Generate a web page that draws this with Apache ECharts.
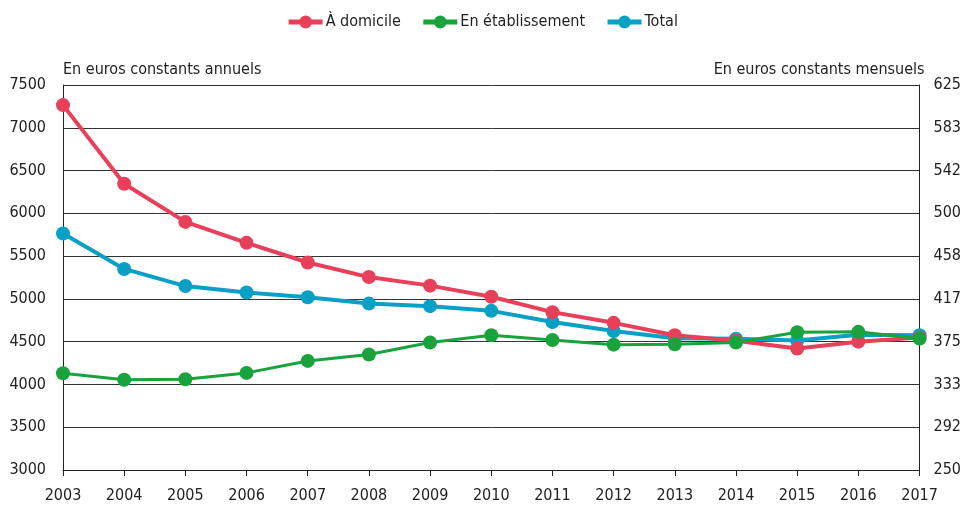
<!DOCTYPE html>
<html>
<head>
<meta charset="utf-8">
<script src="https://cdn.jsdelivr.net/npm/echarts@6/dist/echarts.min.js"></script>
<style>
  html, body { margin: 0; padding: 0; background: #fff; }
  #chart { width: 964px; height: 505px; }
</style>
</head>
<body>
<div id="chart"></div>
<script>
// Years on the horizontal axis
const years = ['2003','2004','2005','2006','2007','2008','2009','2010','2011','2012','2013','2014','2015','2016','2017'];

// Annual amounts in constant euros
const domicile = [7265, 6345, 5900, 5655, 5425, 5255, 5155, 5025, 4845, 4720, 4575, 4510, 4420, 4500, 4550];
const etablissement = [4130, 4055, 4060, 4135, 4275, 4350, 4490, 4575, 4520, 4465, 4470, 4490, 4610, 4615, 4535];
const total = [5765, 5350, 5150, 5075, 5020, 4945, 4915, 4860, 4730, 4625, 4540, 4535, 4515, 4580, 4575];

const seriesNames = ['À domicile', 'En établissement', 'Total'];
const colors = ['#e8405a', '#18a33c', '#0aa0c6'];

const FONT = '"Liberation Sans Narrow", "DejaVu Sans Condensed", "Roboto", sans-serif';

const chart = echarts.init(document.getElementById('chart'));

function lineSeries(name, data, color, width, z) {
  return {
    name: name,
    type: 'line',
    data: data,
    yAxisIndex: 0,
    symbol: 'circle',
    symbolSize: 14,
    z: z,
    itemStyle: { color: color },
    lineStyle: { color: color, width: width },
    emphasis: { disabled: true },
    animation: false
  };
}

chart.setOption({
  animation: false,
  color: colors,
  textStyle: { fontFamily: FONT },
  legend: {
    top: 9,
    left: 'center',
    itemWidth: 34,
    itemHeight: 16,
    itemGap: 20,
    lineStyle: { width: 5 },
    textStyle: { fontFamily: FONT, fontSize: 16, color: '#222', padding: [0, 0, 0, -2] },
    data: seriesNames
  },
  grid: { left: 63, right: 43, top: 85, bottom: 35, containLabel: false },
  xAxis: {
    type: 'category',
    data: years,
    boundaryGap: false,
    axisLine: { show: true, lineStyle: { color: '#222', width: 1 } },
    axisTick: { show: true, length: 6, lineStyle: { color: '#222' } },
    axisLabel: { color: '#222', fontSize: 16, margin: 18, fontFamily: FONT },
    splitLine: { show: false }
  },
  yAxis: [
    {
      type: 'value',
      min: 3000,
      max: 7500,
      interval: 500,
      name: 'En euros constants annuels',
      nameLocation: 'end',
      nameGap: 7,
      nameTextStyle: { align: 'left', color: '#222', fontSize: 16, fontFamily: FONT },
      axisLine: { show: true, lineStyle: { color: '#222', width: 1 } },
      axisTick: { show: false },
      axisLabel: {
        color: '#222', fontSize: 16, margin: 17, fontFamily: FONT,
        formatter: v => String(v)
      },
      splitLine: { show: true, lineStyle: { color: '#333', width: 1 } }
    },
    {
      type: 'value',
      position: 'right',
      min: 250,
      max: 625,
      interval: 125 / 3,
      name: 'En euros constants mensuels',
      nameLocation: 'end',
      nameGap: 7,
      nameTextStyle: { align: 'right', color: '#222', fontSize: 16, fontFamily: FONT, padding: [0, -5, 0, 0] },
      axisLine: { show: true, lineStyle: { color: '#222', width: 1 } },
      axisTick: { show: false },
      axisLabel: {
        color: '#222', fontSize: 16, margin: 14, fontFamily: FONT,
        formatter: v => String(Math.round(v))
      },
      splitLine: { show: false }
    }
  ],
  series: [
    lineSeries(seriesNames[2], total, colors[2], 4, 2),
    lineSeries(seriesNames[0], domicile, colors[0], 4, 3),
    lineSeries(seriesNames[1], etablissement, colors[1], 3, 4)
  ]
});
</script>
</body>
</html>
